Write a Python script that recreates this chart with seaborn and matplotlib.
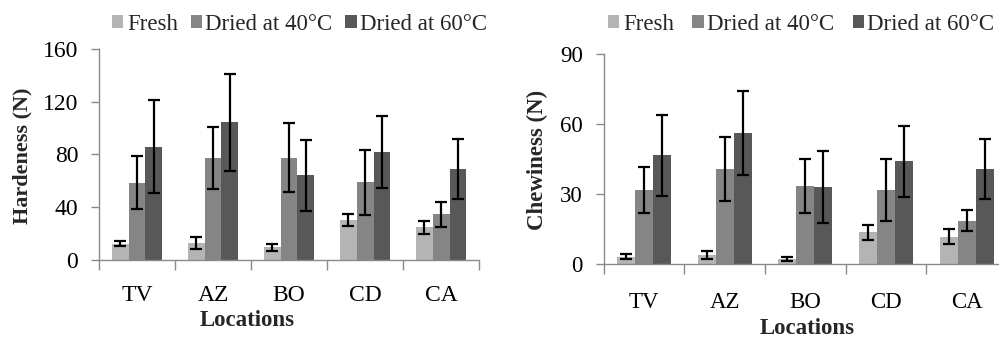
import matplotlib
matplotlib.use("Agg")
import matplotlib.pyplot as plt
import seaborn as sns
import pandas as pd
from matplotlib.patches import Patch

locations = ["TV", "AZ", "BO", "CD", "CA"]
treatments = ["Fresh", "Dried at 40°C", "Dried at 60°C"]

hard_fresh = [12.5, 13, 9.6, 30.5, 24.7]
hard_40 = [58.5, 77.5, 77.5, 59, 34.5]
hard_60 = [86, 104.5, 64.3, 81.8, 69]
hard_err_fresh = [2, 4.5, 2.5, 4.7, 5]
hard_err_40 = [20, 23.5, 26, 24.7, 9.8]
hard_err_60 = [35, 36.7, 27, 27.3, 23]

chew_fresh = [3.3, 4, 2.2, 13.8, 11.8]
chew_40 = [31.8, 40.8, 33.4, 31.8, 18.7]
chew_60 = [46.6, 56.3, 33, 44.1, 40.8]
chew_err_fresh = [1.2, 1.9, 0.8, 3.2, 3.2]
chew_err_40 = [9.8, 13.7, 11.5, 13.2, 4.5]
chew_err_60 = [17.5, 18, 15.3, 15.2, 13]

colors = ["#b4b4b4", "#858585", "#585858"]
spine_col = "#8a8a8a"

sns.set_theme(style="white")
plt.rcParams["font.family"] = ["Liberation Serif", "DejaVu Serif"]

fig = plt.figure(figsize=(9.99, 3.38), dpi=100)


def make_df(fr, d40, d60):
    rows = []
    for t, vals in zip(treatments, [fr, d40, d60]):
        for loc, v in zip(locations, vals):
            rows.append({"Location": loc, "Treatment": t, "Value": v})
    return pd.DataFrame(rows)


def draw(ax, df, errs, ymax, ystep, tick_fs, label_pad):
    sns.barplot(data=df, x="Location", y="Value", hue="Treatment",
                order=locations, hue_order=treatments, palette=colors,
                width=0.67, gap=0, errorbar=None, legend=False,
                saturation=1, linewidth=0, ax=ax)
    for cont, err in zip(ax.containers, errs):
        xs = [p.get_x() + p.get_width() / 2 for p in cont.patches]
        ys = [p.get_height() for p in cont.patches]
        ax.errorbar(xs, ys, yerr=err, fmt="none", ecolor="black",
                    elinewidth=1.6, capsize=4, capthick=1.6, zorder=5)
    ax.set_xlim(-0.5, len(locations) - 0.5)
    ax.set_ylim(0, ymax)
    ax.set_yticks(range(0, ymax + 1, ystep))
    ax.set_xticks([i - 0.5 for i in range(len(locations) + 1)])
    ax.set_xticklabels([])
    ax.set_xticks(range(len(locations)), minor=True)
    ax.set_xticklabels(locations, minor=True, fontsize=tick_fs)
    ax.tick_params(axis="x", which="major", length=7, width=1,
                   color=spine_col, direction="out", bottom=True)
    ax.tick_params(axis="x", which="minor", length=0, pad=label_pad,
                   colors="black")
    ax.tick_params(axis="y", which="major", length=6, width=1,
                   color=spine_col, direction="out", left=True,
                   pad=9, labelsize=tick_fs, labelcolor="black")
    for s in ["top", "right"]:
        ax.spines[s].set_visible(False)
    for s in ["left", "bottom"]:
        ax.spines[s].set_color(spine_col)
        ax.spines[s].set_linewidth(1)
    ax.set_xlabel("")
    ax.set_ylabel("")


ax1 = fig.add_axes([0.0991, 0.2308, 0.3804, 0.6243])
draw(ax1, make_df(hard_fresh, hard_40, hard_60),
     [hard_err_fresh, hard_err_40, hard_err_60], 160, 40, 17, 18)

ax2 = fig.add_axes([0.6043, 0.2180, 0.4037, 0.6222])
draw(ax2, make_df(chew_fresh, chew_40, chew_60),
     [chew_err_fresh, chew_err_40, chew_err_60], 90, 30, 16.5, 20)

handles = [Patch(facecolor=c, edgecolor="none", label=t)
           for c, t in zip(colors, treatments)]

for ax, x0, cs in [(ax1, 112 / 999, 0.55), (ax2, 608 / 999, 0.8)]:
    ax.legend(handles=handles, loc="center left",
              bbox_to_anchor=(x0, 1 - 24 / 338), bbox_transform=fig.transFigure,
              ncol=3, frameon=False, fontsize=16.5, handlelength=0.5,
              handleheight=0.5, handletextpad=0.15, columnspacing=cs,
              borderpad=0, borderaxespad=0)

fig.text(22 / 999, 1 - 156 / 338, "Hardeness (N)", rotation=90,
         ha="center", va="center", fontsize=16, fontweight="bold")
fig.text(537 / 999, 1 - 160 / 338, "Chewiness (N)", rotation=90,
         ha="center", va="center", fontsize=16.5, fontweight="bold")
fig.text(247 / 999, 1 - 310 / 338, "Locations", ha="center", va="top",
         fontsize=16.5, fontweight="bold")
fig.text(807 / 999, 1 - 318 / 338, "Locations", ha="center", va="top",
         fontsize=16.5, fontweight="bold")

fig.savefig("out.png", dpi=100, facecolor="white")
